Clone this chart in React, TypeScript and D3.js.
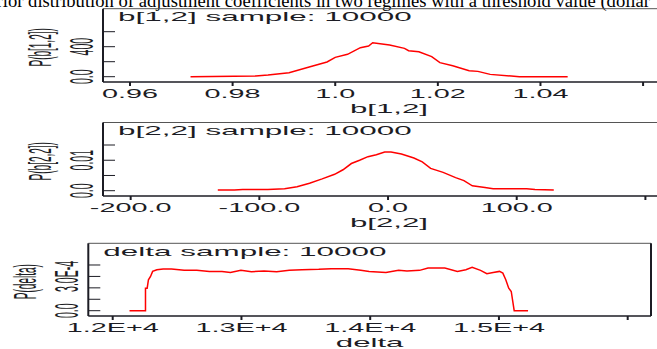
import * as d3 from 'd3';
import React, { useEffect, useRef } from 'react';

// caption line above the figure (cut off at the top of the image)
const caption = 'Posterior distribution of adjustment coefficients in two regimes with a threshold value (dollar';

// b[1,2] density
const b12X = [0.9718, 0.9845, 0.9869, 0.9910, 0.9951, 0.9984, 1.0000, 1.0024, 1.0049, 1.0065, 1.0073, 1.0106, 1.0135, 1.0143, 1.0163, 1.0188, 1.0204, 1.0229, 1.0261, 1.0278, 1.0302, 1.0343, 1.0359, 1.0453];
const b12Y = [0, 9, 22, 53, 133, 196, 258, 298, 387, 409, 453, 422, 378, 347, 333, 267, 187, 147, 80, 71, 31, 9, 0, 0];
const b12XTicks = [0.96, 0.98, 1.0, 1.02, 1.04, 1.06];
const b12XLabels = ['0.96', '0.98', '1.0', '1.02', '1.04', ''];
const b12YTicks = [0, 200, 400, 600];
const b12YLabels = ['0.0', '', '400', ''];

// b[2,2] density
const b22X = [-132.3, -119.4, -112.9, -93.4, -80.4, -70.7, -61.0, -51.2, -41.5, -35.0, -28.5, -22.1, -15.6, -9.1, -2.6, 2.3, 10.4, 20.1, 26.6, 33.1, 42.8, 52.5, 59.0, 65.5, 75.3, 81.7, 107.7, 114.2, 128.8];
const b22Y = [0.00022, 0.00022, 0.00043, 0.00043, 0.00065, 0.00129, 0.00247, 0.00387, 0.00538, 0.00688, 0.00892, 0.01000, 0.01118, 0.01183, 0.01269, 0.01269, 0.01204, 0.01075, 0.00946, 0.00731, 0.00602, 0.00430, 0.00333, 0.00161, 0.00108, 0.00065, 0.00065, 0.00043, 0.00022];
const b22XTicks = [-200, -100, 0, 100, 200];
const b22XLabels = ['-200.0', '-100.0', '0.0', '100.0', ''];
const b22YTicks = [0, 0.005, 0.01, 0.015];
const b22YLabels = ['0.0', '', '0.01', ''];

// delta density
const deltaX = [12130.6, 12254.7, 12254.7, 12267.8, 12277.6, 12293.9, 12310.2, 12342.9, 12391.8, 12457.1, 12555.1, 12653.1, 12751.0, 12849.0, 12914.3, 12995.9, 13077.6, 13175.5, 13273.5, 13371.4, 13469.4, 13600.0, 13698.0, 13828.6, 13926.5, 13991.8, 14122.4, 14220.4, 14285.7, 14383.7, 14449.0, 14579.6, 14677.6, 14742.9, 14791.8, 14857.1, 14906.1, 14955.1, 15004.1, 15030.2, 15053.1, 15075.9, 15095.5, 15118.4, 15226.1];
const deltaY = [0, 0, 1.97, 1.97, 2.71, 3.0, 3.44, 3.59, 3.65, 3.65, 3.53, 3.53, 3.44, 3.44, 3.35, 3.53, 3.41, 3.47, 3.41, 3.53, 3.59, 3.62, 3.68, 3.68, 3.53, 3.44, 3.35, 3.53, 3.47, 3.53, 3.74, 3.74, 3.44, 3.59, 3.79, 3.53, 3.24, 3.35, 3.44, 3.29, 2.71, 1.97, 1.68, 0, 0].map(v => v * 1e-4);
const deltaXTicks = [12000, 13000, 14000, 15000, 16000];
const deltaXLabels = ['1.2E+4', '1.3E+4', '1.4E+4', '1.5E+4', ''];
const deltaYTicks = [0, 1e-4, 2e-4, 3e-4, 4e-4];
const deltaYLabels = ['0.0', '', '', '3.0E-4', ''];

const W = 657;
const H = 349;
const ink = '#1c1c24';
const lineColor = '#ff0000';
const font = '"Liberation Sans", Arial, sans-serif';

const panels = [
    { title: 'b[1,2] sample: 10000', xName: 'b[1,2]', yName: 'P(b[1,2])', xs: b12X, ys: b12Y,
      xTicks: b12XTicks, xLabels: b12XLabels, yTicks: b12YTicks, yLabels: b12YLabels,
      xDomain: [0.95474, 1.06622], yDomain: [-70.7, 906.7],
      left: 103, right: 675, top: 8.7, bottom: 82 },
    { title: 'b[2,2] sample: 10000', xName: 'b[2,2]', yName: 'P(b[2,2])', xs: b22X, ys: b22Y,
      xTicks: b22XTicks, xLabels: b22XLabels, yTicks: b22YTicks, yLabels: b22YLabels,
      xDomain: [-221.5, 223.0], yDomain: [-0.00174, 0.02239],
      left: 103, right: 675, top: 122.5, bottom: 196 },
    { title: 'delta sample: 10000', xName: 'delta', yName: 'P(delta)', xs: deltaX, ys: deltaY,
      xTicks: deltaXTicks, xLabels: deltaXLabels, yTicks: deltaYTicks, yLabels: deltaYLabels,
      xDomain: [11810.5, 16181], yDomain: [-0.0000464, 0.0005899],
      left: 88.3, right: 651, top: 243.3, bottom: 316 },
];

// horizontally stretched text, like the squeezed screenshot
function stretched(g, x, y, str, size, sx, anchor, rotate = false) {
    g.append('text')
        .attr('transform', `translate(${x},${y}) scale(${sx},1)` + (rotate ? ' rotate(-90)' : ''))
        .attr('text-anchor', anchor)
        .style('font-family', font)
        .style('font-size', size + 'px')
        .style('fill', ink)
        .text(str);
}

const App = () => {
    const ref = useRef(null);

    useEffect(() => {
        const svg = d3.select(ref.current);
        svg.selectAll('*').remove();

        svg.append('text')
            .attr('x', 650)
            .attr('y', 6.5)
            .attr('text-anchor', 'end')
            .style('font-family', '"Liberation Serif", "Times New Roman", serif')
            .style('font-size', '18.6px')
            .style('fill', '#000')
            .text(caption);

        panels.forEach(p => {
            const g = svg.append('g');
            const x = d3.scaleLinear().domain(p.xDomain).range([p.left, p.right]);
            const y = d3.scaleLinear().domain(p.yDomain).range([p.bottom, p.top]);

            // frame
            g.append('line').attr('x1', p.left).attr('x2', p.right).attr('y1', p.top).attr('y2', p.top)
                .attr('stroke', '#555').attr('stroke-width', 1);
            g.append('line').attr('x1', p.left).attr('x2', p.right).attr('y1', p.bottom).attr('y2', p.bottom)
                .attr('stroke', ink).attr('stroke-width', 1.5);
            g.append('line').attr('x1', p.left).attr('x2', p.left).attr('y1', p.top).attr('y2', p.bottom)
                .attr('stroke', ink).attr('stroke-width', 2);
            g.append('line').attr('x1', p.right).attr('x2', p.right).attr('y1', p.top).attr('y2', p.bottom)
                .attr('stroke', ink).attr('stroke-width', 2);

            // y ticks point inwards
            g.selectAll('.yt').data(p.yTicks).enter().append('line')
                .attr('x1', p.left).attr('x2', p.left + 12)
                .attr('y1', d => y(d)).attr('y2', d => y(d))
                .attr('stroke', ink).attr('stroke-width', 1);
            p.yTicks.forEach((t, i) => {
                if (p.yLabels[i]) stretched(g, p.left - 10, y(t), p.yLabels[i], 10.5, 3.2, 'middle', true);
            });

            // x ticks point down
            g.selectAll('.xt').data(p.xTicks).enter().append('line')
                .attr('x1', d => x(d)).attr('x2', d => x(d))
                .attr('y1', p.bottom).attr('y2', p.bottom + 4)
                .attr('stroke', ink).attr('stroke-width', 2);
            p.xTicks.forEach((t, i) => {
                if (p.xLabels[i]) stretched(g, x(t), p.bottom + 15.5, p.xLabels[i], 12, 2.4, 'middle');
            });

            stretched(g, (p.left + p.right) / 2, p.bottom + 30.5, p.xName, 13, 2.4, 'middle');
            stretched(g, p.left - 52.5, (p.top + p.bottom) / 2 + 2, p.yName, 10, 3.2, 'middle', true);
            stretched(g, p.left + 15, p.top + 12.5, p.title, 13, 2.42, 'start');

            const line = d3.line()
                .x(d => x(d[0]))
                .y(d => y(d[1]));
            g.append('path')
                .datum(p.xs.map((v, i) => [v, p.ys[i]]))
                .attr('d', line)
                .attr('fill', 'none')
                .attr('stroke', lineColor)
                .attr('stroke-width', 1.5);
        });
    }, []);

    return (
        <svg ref={ref} width={W} height={H} style={{ position: 'absolute', left: 0, top: 0, background: '#fff' }}>
        </svg>
    );
};

export default App;
